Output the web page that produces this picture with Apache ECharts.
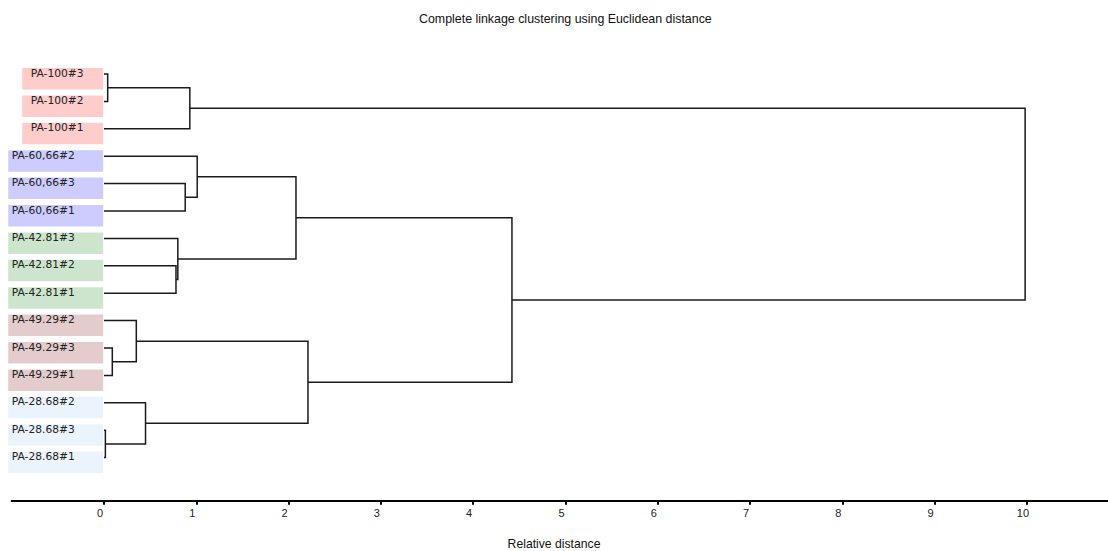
<!DOCTYPE html>
<html><head><meta charset="utf-8">
<script src="https://cdn.jsdelivr.net/npm/echarts@6/dist/echarts.min.js"></script>
<style>html,body{margin:0;padding:0;background:#fff}#c{width:1108px;height:551px}</style>
</head><body><div id="c"></div>
<script>
// ---- data ----
const leafLabels = ['PA-100#3','PA-100#2','PA-100#1','PA-60,66#2','PA-60,66#3','PA-60,66#1',
  'PA-42.81#3','PA-42.81#2','PA-42.81#1','PA-49.29#2','PA-49.29#3','PA-49.29#1',
  'PA-28.68#2','PA-28.68#3','PA-28.68#1'];
const leafGroups = [0,0,0,1,1,1,2,2,2,3,3,3,4,4,4];
// linkage: node ids < 15 are leaves, 15+k is the cluster made by merge k
const mergeLeft   = [13, 0, 10,  9, 12,  7,  6,  4, 16,  3, 24, 18, 25, 23];
const mergeRight  = [14, 1, 11, 17, 15,  8, 20,  5,  2, 22, 21, 19, 26, 27];
const mergeHeights = [0.015,0.04,0.09,0.35,0.45,0.78,0.80,0.88,0.93,1.01,2.08,2.21,4.42,9.98];
const xTicks = [0,1,2,3,4,5,6,7,8,9,10];

// ---- styles ----
const groupColors = ['#FFCCCC','#CCCCFF','#CCE5CC','#E5CCCC','#EBF3FC'];
const groupBoxWidth = [81,95,95,95,95];
const groupTextPad = [8.5,3.5,3.5,3.5,3.5];

// ---- build dendrogram segments ----
const nLeaves = leafLabels.length;
const nodeX = [], nodeY = [];
for (let i = 0; i < nLeaves; i++) { nodeX[i] = 0; nodeY[i] = i; }
const links = [];
mergeHeights.forEach((h, k) => {
  const a = mergeLeft[k], b = mergeRight[k];
  links.push([nodeX[a], nodeY[a], h, nodeX[b], nodeY[b]]);
  nodeX[nLeaves + k] = h;
  nodeY[nLeaves + k] = (nodeY[a] + nodeY[b]) / 2;
});
const leafData = leafLabels.map((l, i) => [0, i, leafGroups[i]]);

const chart = echarts.init(document.getElementById('c'), null, {renderer: 'svg'});
chart.setOption({
  animation: false,
  backgroundColor: '#fff',
  title: [
    {text: 'Complete linkage clustering using Euclidean distance', left: 419, top: 13, padding: 0,
     textStyle: {fontSize: 12.4, fontWeight: 'normal', color: '#111', fontFamily: 'Liberation Sans'}},
    {text: 'Relative distance', left: 'center', top: 537.5, padding: 0,
     textStyle: {fontSize: 12.2, fontWeight: 'normal', color: '#111', fontFamily: 'Liberation Sans'}}
  ],
  grid: {left: 11.7, top: 60.3, width: 1096.3, height: 411},
  xAxis: {
    type: 'value', min: -1, max: 10.878, offset: 29.4,
    axisLine: {show: true, onZero: false, lineStyle: {color: '#000', width: 2}},
    axisTick: {show: true, customValues: xTicks, length: 4, lineStyle: {color: '#000', width: 2}},
    axisLabel: {customValues: xTicks, fontSize: 11, fontFamily: 'Liberation Sans', color: '#222',
      margin: 6.5, padding: [0, 8, 0, 0]},
    splitLine: {show: false}
  },
  yAxis: {type: 'value', min: -0.5, max: 14.5, inverse: true, show: false},
  series: [
    {
      type: 'custom', name: 'labels', data: leafData, silent: true,
      renderItem: function (params, api) {
        const p = api.coord([api.value(0), api.value(1)]);
        const g = api.value(2);
        const bw = groupBoxWidth[g];
        return {
          type: 'group',
          children: [
            {type: 'rect', shape: {x: p[0] - bw - 0.8, y: p[1] - 6, width: bw, height: 21.5},
             style: {fill: groupColors[g]}},
            {type: 'text', style: {text: leafLabels[params.dataIndex], x: p[0] - bw - 0.8 + groupTextPad[g], y: p[1] - 1,
              align: 'left', verticalAlign: 'middle', font: '10.7px "DejaVu Sans"', fill: '#222'}}
          ]
        };
      }
    },
    {
      type: 'custom', name: 'links', data: links, silent: true,
      renderItem: function (params, api) {
        const p1 = api.coord([api.value(0), api.value(1)]);
        const p2 = api.coord([api.value(2), api.value(1)]);
        const p3 = api.coord([api.value(2), api.value(4)]);
        const p4 = api.coord([api.value(3), api.value(4)]);
        return {type: 'polyline', shape: {points: [p1, p2, p3, p4]},
          style: {stroke: '#1a1a1a', lineWidth: 1.5, fill: null}};
      }
    }
  ]
});
</script></body></html>
